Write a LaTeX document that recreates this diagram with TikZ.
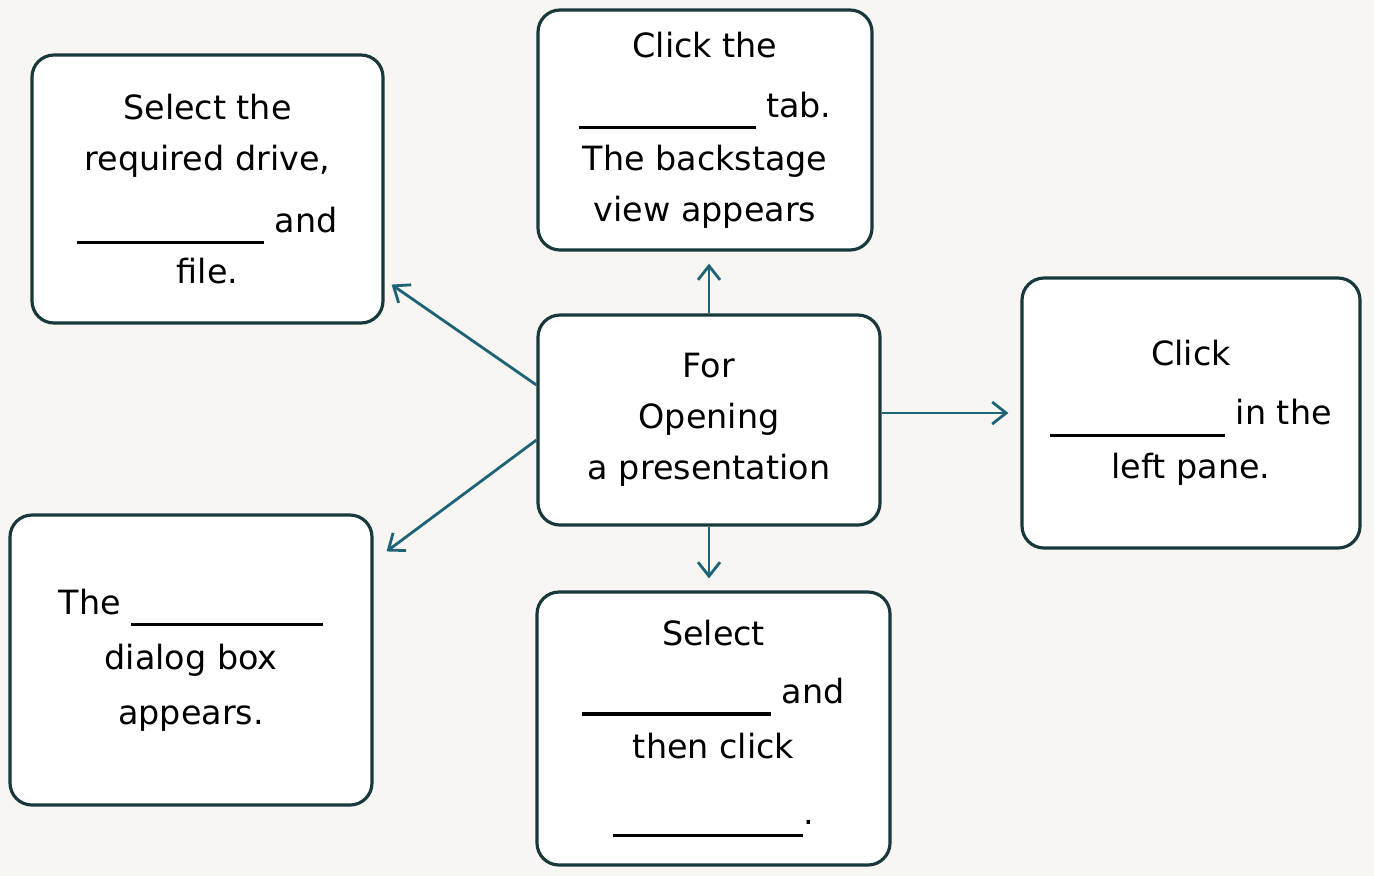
\documentclass[tikz,border=0pt]{standalone}
\usepackage{fontspec}
\setmainfont{DejaVu Sans}
\usetikzlibrary{arrows.meta}
\definecolor{boxline}{RGB}{24,56,60}
\definecolor{arrowline}{RGB}{30,100,118}
\definecolor{paper}{RGB}{247,246,243}
\newcommand{\fillin}[1]{\rule[-3.4pt]{#1}{0.9pt}}
\begin{document}
\begin{tikzpicture}[x=0.1mm,y=-0.1mm,
  card/.style={draw=boxline,line width=0.9pt,fill=white,rounded corners=2.2mm,align=center,inner sep=0pt,font=\fontsize{9.5}{14.5}\selectfont},
  arr/.style={draw=arrowline,line width=0.8pt,-{Straight Barb[length=1.4mm,width=2.2mm]}}]
\fill[paper] (0,0) rectangle (1374,876);
\useasboundingbox (0,0) rectangle (1374,876);
\node[card,minimum width=35.1mm,minimum height=26.8mm] (sel) at (207.5,189) {Select the\\required drive,\\[3pt]\fillin{18.7mm} and\\file.};
\node[card,minimum width=33.4mm,minimum height=24mm] (clk) at (705,130) {Click the\\[2.6pt]\fillin{17.7mm} tab.\\[0.6pt]The backstage\\view appears};
\node[card,minimum width=34.2mm,minimum height=21mm] (ctr) at (709,420) {For\\Opening\\a presentation};
\node[card,minimum width=33.8mm,minimum height=27mm] (rgt) at (1191,413) {Click\\[2.3pt]\fillin{17.5mm} in the\\[0.8pt]left pane.};
\node[card,minimum width=36.2mm,minimum height=29mm] (dlg) at (191,660) {The \fillin{19.2mm}\\[1.2pt]dialog box\\[1.2pt]appears.};
\node[card,minimum width=35.3mm,minimum height=27.3mm] (bot) at (713.5,728.5) {Select\\[2pt]\fillin{18.9mm} and\\[1.2pt]then click\\[4.3pt]\fillin{19mm}.};
\draw[arr,shorten >=1.2mm] (ctr.north) -- (ctr.north |- clk.south);
\draw[arr,shorten >=1.2mm] (ctr.south) -- (ctr.south |- bot.north);
\draw[arr,shorten >=1.2mm] (rgt.west -| ctr.east) -- (rgt.west);
\draw[arr] ([yshift=3.5mm]ctr.west) -- ([xshift=0.7mm,yshift=4mm]sel.south east);
\draw[arr] ([yshift=-2mm]ctr.west) -- ([xshift=1.3mm,yshift=-3.8mm]dlg.north east);
\end{tikzpicture}
\end{document}
